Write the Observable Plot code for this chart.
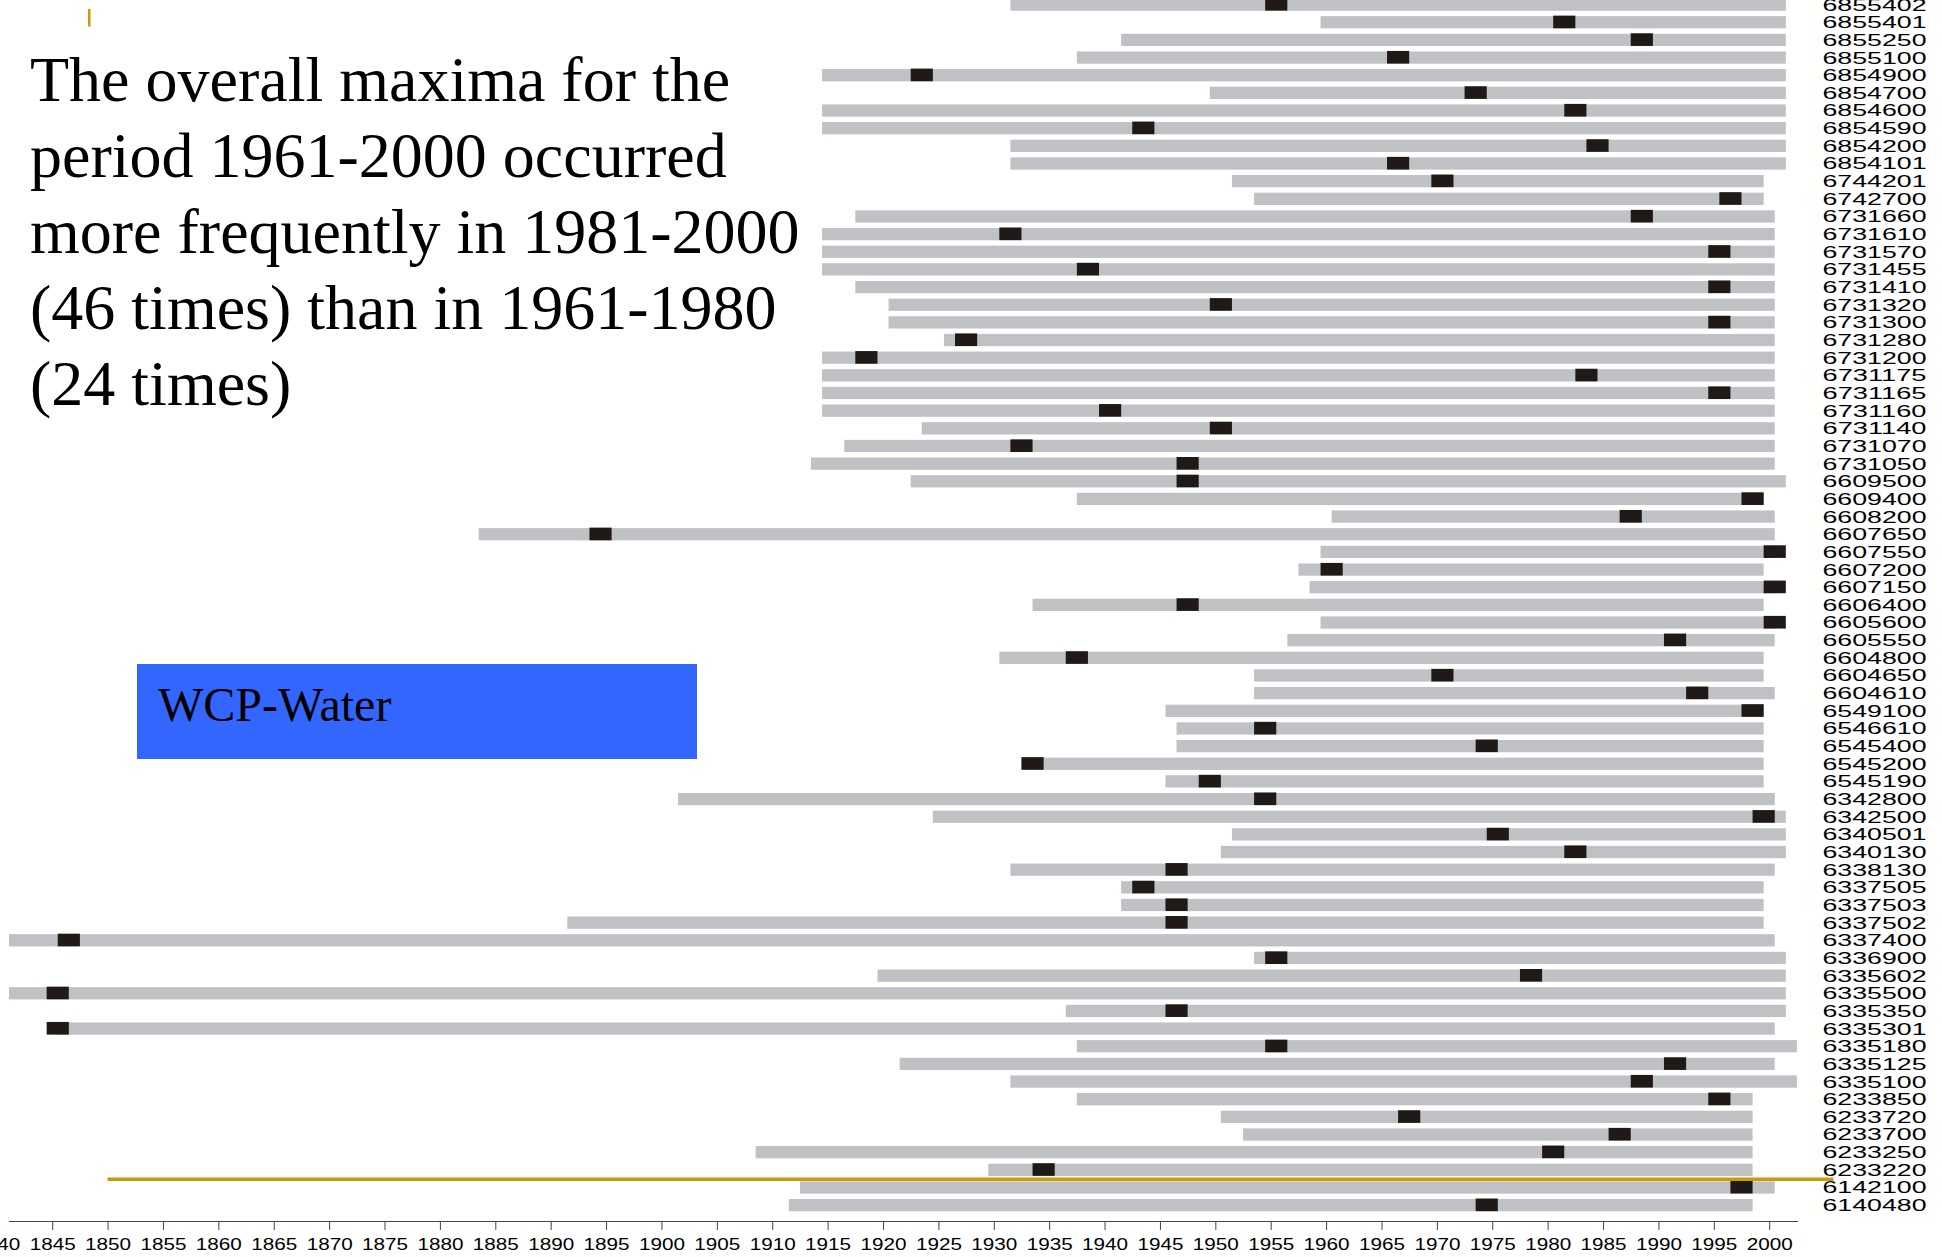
<!DOCTYPE html>
<html>
<head>
<meta charset="utf-8">
<script src="https://cdn.jsdelivr.net/npm/d3@7"></script>
<script src="https://cdn.jsdelivr.net/npm/@observablehq/plot@0.6"></script>
<style>
  html, body { margin: 0; padding: 0; background: #ffffff; }
  #wrap { position: relative; width: 1942px; height: 1257px; overflow: hidden; }
  #chart { position: absolute; left: 0; top: 0; }
  #headline {
    position: absolute; left: 30px; top: 42px; margin: 0;
    font-family: "Liberation Serif", "Times New Roman", serif;
    font-size: 64px; line-height: 76px; color: #000; white-space: nowrap;
  }
  #badge {
    position: absolute; left: 137px; top: 664px; width: 560px; height: 95px;
    background: #3366ff; box-sizing: border-box; padding: 17px 0 0 21px;
    font-family: "Liberation Serif", "Times New Roman", serif;
    font-size: 48px; line-height: 48px; color: #000;
  }
</style>
</head>
<body>
<div id="wrap">
  <div id="chart"></div>
  <div id="headline">The overall maxima for the<br>period 1961-2000 occurred<br>more frequently in 1981-2000<br>(46 times) than in 1961-1980<br>(24 times)</div>
  <div id="badge">WCP-Water</div>
</div>
<script>
// Station identifiers (top to bottom)
const stations = [
  "6855402","6855401","6855250","6855100","6854900","6854700","6854600","6854590","6854200","6854101",
  "6744201","6742700","6731660","6731610","6731570","6731455","6731410","6731320","6731300","6731280",
  "6731200","6731175","6731165","6731160","6731140","6731070","6731050","6609500","6609400","6608200",
  "6607650","6607550","6607200","6607150","6606400","6605600","6605550","6604800","6604650","6604610",
  "6549100","6546610","6545400","6545200","6545190","6342800","6342500","6340501","6340130","6338130",
  "6337505","6337503","6337502","6337400","6336900","6335602","6335500","6335350","6335301","6335180",
  "6335125","6335100","6233850","6233720","6233700","6233250","6233220","6142100","6140480"
];
// First year of record
const startYears = [
  1931,1959,1941,1937,1914,1949,1914,1914,1931,1931,
  1951,1953,1917,1914,1914,1914,1917,1920,1920,1925,
  1914,1914,1914,1914,1923,1916,1913,1922,1937,1960,
  1883,1959,1957,1958,1933,1959,1956,1930,1953,1953,
  1945,1946,1946,1932,1945,1901,1924,1951,1950,1931,
  1941,1941,1891,1840,1953,1919,1840,1936,1845,1937,
  1921,1931,1937,1950,1952,1908,1929,1912,1911
];
// Last year of record
const endYears = [
  2001,2001,2001,2001,2001,2001,2001,2001,2001,2001,
  1999,1999,2000,2000,2000,2000,2000,2000,2000,2000,
  2000,2000,2000,2000,2000,2000,2000,2001,1999,2000,
  2000,2000,1999,2000,1999,2000,2000,1999,1999,2000,
  1999,1999,1999,1999,1999,2000,2001,2001,2001,2000,
  1999,1999,1999,2000,2001,2001,2001,2001,2000,2002,
  2000,2002,1998,1998,1998,1998,1998,2000,1998
];
// Year of the overall maximum
const maxYears = [
  1955,1981,1988,1966,1923,1973,1982,1943,1984,1966,
  1970,1996,1988,1931,1995,1938,1995,1950,1995,1927,
  1918,1983,1995,1940,1950,1932,1947,1947,1998,1987,
  1894,2000,1960,2000,1947,2000,1991,1937,1970,1993,
  1998,1954,1974,1933,1949,1954,1999,1975,1982,1946,
  1943,1946,1946,1846,1955,1978,1845,1946,1845,1955,
  1991,1988,1995,1967,1986,1980,1934,1997,1974
];
// x-axis tick labels
const yearTicks = [1840,1845,1850,1855,1860,1865,1870,1875,1880,1885,1890,1895,1900,1905,1910,1915,
  1920,1925,1930,1935,1940,1945,1950,1955,1960,1965,1970,1975,1980,1985,1990,1995,2000];
// annotation rule (orange) and marker tick
const orangeLine = [{after: "6233220", from: 1850, to: 2005.8}];
const orangeTick = [{year: 1848.3, row: "6855401"}];

const records = stations.map((id, i) => ({id, start: startYears[i], end: endYears[i], max: maxYears[i]}));

const W = 1942, H = 1257;
const mL = 9, mR = 144, mB = 36;

const baseline = (index, scales, values, dims) => {
  const g = d3.create("svg:g").attr("aria-label", "x-axis line");
  g.append("line")
    .attr("x1", dims.marginLeft).attr("x2", dims.width - dims.marginRight)
    .attr("y1", dims.height - dims.marginBottom + 0.5).attr("y2", dims.height - dims.marginBottom + 0.5)
    .attr("stroke", "#444").attr("stroke-width", 1.2);
  return g.node();
};

const step = 17.655;
const plot = Plot.plot({
  width: W, height: H,
  marginTop: 0, marginLeft: mL, marginRight: mR, marginBottom: mB,
  style: {fontFamily: "'Liberation Sans', Arial, sans-serif", background: "transparent", color: "#222"},
  x: {domain: [1841.1, 2002.6]},
  y: {type: "band", domain: stations, range: [4.6 - step / 2, 4.6 + 68 * step + step / 2], padding: 0, round: false},
  marks: [
    Plot.barX(records, {x1: d => d.start + 0.5, x2: d => d.end + 0.5, y: "id", fill: "#c0c1c5", insetTop: 2.7, insetBottom: 2.7, clip: true}),
    Plot.barX(records, {x1: d => d.max - 0.5, x2: d => d.max + 1.5, y: "id", fill: "#1f1a17", insetTop: 2.2, insetBottom: 2.8}),
    Plot.ruleY(orangeLine, {y: "after", x1: "from", x2: "to", dy: step / 2, stroke: "#cc9a06", strokeWidth: 3.5}),
    Plot.tickX(orangeTick, {x: "year", y: "row", dy: -4.5, stroke: "#cc9a06", strokeWidth: 2.5}),
    Plot.axisX({anchor: "bottom", ticks: yearTicks, tickFormat: d => String(d), tickSize: 9, tickPadding: 8, fontSize: 16, stroke: "#444", fill: "#000", label: null}),
    Plot.axisY({anchor: "right", tickSize: 0, tickPadding: 24, fontSize: 17, fill: "#000", label: null}),
    baseline
  ]
});
document.getElementById("chart").appendChild(plot);

// stretch tick labels horizontally like the reference
plot.querySelectorAll('g[aria-label="y-axis tick label"] text').forEach(t => {
  t.setAttribute("textLength", 104);
  t.setAttribute("lengthAdjust", "spacingAndGlyphs");
});
plot.querySelectorAll('g[aria-label="x-axis tick label"] text').forEach(t => {
  t.setAttribute("textLength", 46);
  t.setAttribute("lengthAdjust", "spacingAndGlyphs");
});
</script>
</body>
</html>
